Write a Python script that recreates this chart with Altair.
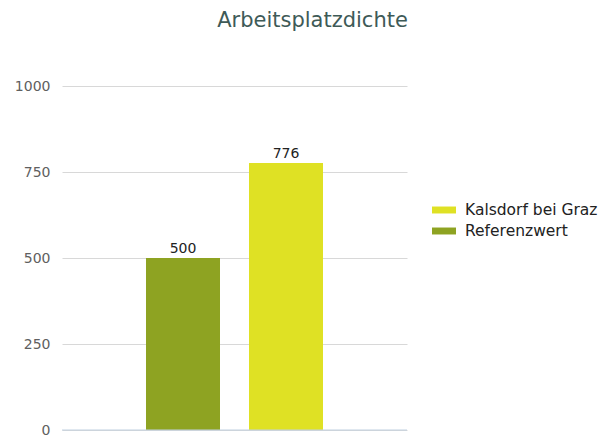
import altair as alt
import pandas as pd

categories = ["Referenzwert", "Kalsdorf bei Graz"]
values = [500, 776]
legend_order = ["Kalsdorf bei Graz", "Referenzwert"]
colors = ["#dfe124", "#8ea322"]
y_ticks = [0, 250, 500, 750, 1000]

df = pd.DataFrame({"cat": categories, "val": values})

FONT = "DejaVu Sans"

base = alt.Chart(df).encode(
    x=alt.X("cat:N", sort=categories, axis=None,
            scale=alt.Scale(paddingInner=0.2816, paddingOuter=0.8155)),
)

bars = base.mark_bar().encode(
    y=alt.Y("val:Q", scale=alt.Scale(domain=[0, 1000], nice=False),
            axis=alt.Axis(values=y_ticks, title=None, domain=False, ticks=False, format="d",
                          labelPadding=12, labelFontSize=14, labelColor="#606060",
                          labelFont=FONT, gridColor="#d8d8d8", gridWidth=1)),
    color=alt.Color("cat:N", scale=alt.Scale(domain=legend_order, range=colors),
                    legend=alt.Legend(title=None, orient="none", legendX=370, legendY=112,
                                      symbolType="M-1,-0.29H1V0.29H-1Z", symbolSize=576,
                                      symbolStrokeWidth=0, labelFontSize=15.5,
                                      labelFont=FONT, labelColor="#222222",
                                      rowPadding=0, labelOffset=9)),
)

labels = base.mark_text(baseline="alphabetic", dy=-5, fontSize=14, font=FONT,
                        color="#222222").encode(
    y=alt.Y("val:Q"),
    text=alt.Text("val:Q"),
)

zero = alt.Chart(pd.DataFrame({"z": [0]})).mark_rule(color="#c0d0e0", strokeWidth=1).encode(
    y=alt.Y("z:Q")
)

chart = alt.layer(bars, zero, labels).properties(
    width=345, height=344,
    autosize=alt.AutoSizeParams(type="none"),
    padding={"left": 54, "top": 78, "right": 200, "bottom": 9},
    title=alt.TitleParams("Arbeitsplatzdichte", font=FONT, fontSize=21, fontWeight="normal",
                          color="#3e5a57", anchor="middle", dx=78, offset=31,
                          baseline="alphabetic"),
).configure_view(stroke=None)

chart.save("out.html", embed_options={"renderer": "svg", "actions": False})
